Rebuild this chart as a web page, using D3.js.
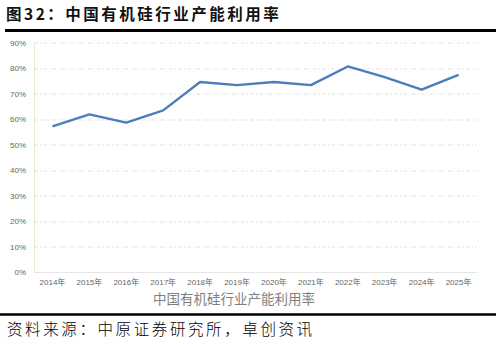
<!DOCTYPE html>
<html>
<head>
<meta charset="utf-8">
<script src="https://cdn.jsdelivr.net/npm/d3@7"></script>
<style>
  body { margin: 0; background: #fff; }
  svg { display: block; }
</style>
</head>
<body>
<section></section>
<script>
// data
var years = ["2014年", "2015年", "2016年", "2017年", "2018年", "2019年",
             "2020年", "2021年", "2022年", "2023年", "2024年", "2025年"];
var rates = [57.1, 61.8, 58.6, 63.4, 74.5, 73.3, 74.5, 73.3, 80.6, 76.4, 71.5, 77.3];
var yTicks = [0, 10, 20, 30, 40, 50, 60, 70, 80, 90];

var W = 501, H = 344;
var margin = {top: 42.5, right: 24, bottom: 72, left: 34},
  width = W - margin.left - margin.right,
  height = H - margin.top - margin.bottom;

var svg = d3.select("section").append("svg")
      .attr("width", W)
      .attr("height", H),
    g = svg.append("g")
      .attr("transform", "translate(" + margin.left + "," + margin.top + ")");

var cjk = "'Noto Sans CJK SC', 'Noto Sans', sans-serif";

// title and rules
svg.append("text")
  .attr("x", 6).attr("y", 20)
  .style("font-family", cjk)
  .style("font-weight", "bold")
  .style("font-size", "15.5px")
  .style("letter-spacing", "2.5px")
  .attr("fill", "#111")
  .text("图32：中国有机硅行业产能利用率");

svg.append("line")
  .attr("x1", 5).attr("x2", 496)
  .attr("y1", 30.5).attr("y2", 30.5)
  .attr("stroke", "#000").attr("stroke-width", 3);

svg.append("line")
  .attr("x1", 0).attr("x2", 496)
  .attr("y1", 314.5).attr("y2", 314.5)
  .attr("stroke", "#000").attr("stroke-width", 2.5);

svg.append("text")
  .attr("x", 7).attr("y", 335)
  .style("font-family", cjk)
  .style("font-size", "15.5px")
  .style("font-weight", "300")
  .style("letter-spacing", "2.6px")
  .attr("fill", "#000")
  .text("资料来源：中原证券研究所，卓创资讯");

// scales
var x = d3.scaleBand()
  .domain(years)
  .range([0, width]);

var y = d3.scaleLinear()
  .domain([0, 90])
  .range([height, 0]);

// gridlines
g.selectAll(".grid")
  .data(yTicks.slice(1))
  .enter().append("line")
  .attr("class", "grid")
  .attr("x1", 0).attr("x2", width)
  .attr("y1", function(d) { return Math.round(y(d)) + 0.5; })
  .attr("y2", function(d) { return Math.round(y(d)) + 0.5; })
  .attr("stroke", "#d9d9d9")
  .attr("stroke-width", 0.8)
  .attr("stroke-dasharray", "4,2,1,2");

// y axis
var yAxis = g.append("g")
  .call(d3.axisLeft(y).tickValues(yTicks)
    .tickFormat(function(d) { return d + "%"; })
    .tickSize(0).tickPadding(8));
yAxis.select(".domain").attr("stroke", "#ece6d6");
yAxis.selectAll("text")
  .style("font-family", "'Liberation Sans', Arial, sans-serif")
  .style("font-size", "8px")
  .attr("fill", "#666");

// x axis
var xAxis = g.append("g")
  .attr("transform", "translate(0," + height + ")")
  .call(d3.axisBottom(x).tickSize(0).tickPadding(7));
xAxis.select(".domain").attr("stroke", "#e6e6e6");
xAxis.selectAll("text")
  .style("font-family", "'Liberation Sans', " + cjk)
  .style("font-size", "8px")
  .attr("fill", "#666");

// axis title
svg.append("text")
  .attr("x", 234).attr("y", 304)
  .attr("text-anchor", "middle")
  .style("font-family", cjk)
  .style("font-size", "13.5px")
  .attr("fill", "#7f7f7f")
  .text("中国有机硅行业产能利用率");

// line
var line = d3.line()
  .x(function(d, i) { return x(years[i]) + x.bandwidth() / 2; })
  .y(function(d) { return y(d); });

g.append("path")
  .datum(rates)
  .attr("fill", "none")
  .attr("stroke", "#4a7ebb")
  .attr("stroke-width", 2.4)
  .attr("stroke-linejoin", "round")
  .attr("d", line);
</script>
</body>
</html>
